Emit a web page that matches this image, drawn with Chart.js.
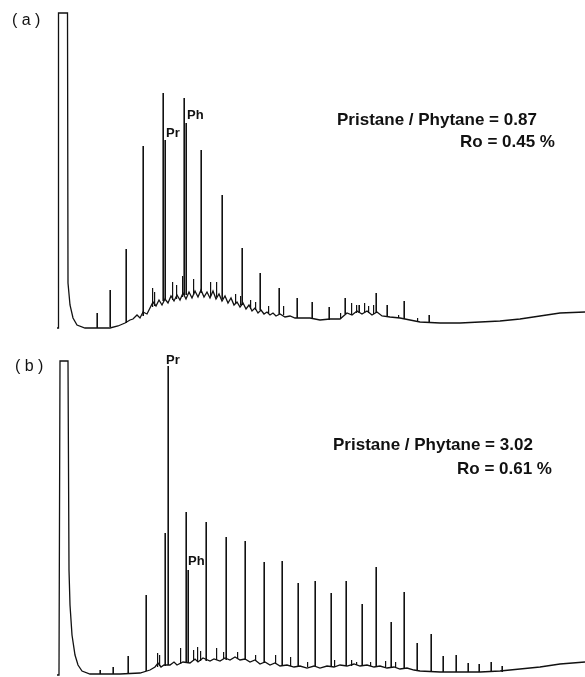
<!DOCTYPE html>
<html>
<head>
<meta charset="utf-8">
<script src="https://cdn.jsdelivr.net/npm/chart.js@4"></script>
<style>
  body { margin: 0; background: #fff; }
  #wrap { position: relative; width: 585px; height: 677px; font-family: "Liberation Sans", Arial, sans-serif; color: #111; }
  .panel { position: absolute; left: 0; width: 585px; }
  .txt { position: absolute; white-space: nowrap; line-height: 1; }
  .big { font-size: 17px; font-weight: bold; }
  .pk { font-size: 13px; font-weight: bold; }
  .tag { font-size: 16px; }
</style>
</head>
<body>
<div id="wrap">
  <div class="panel" style="top:0;height:338px"><canvas id="chartA" width="585" height="338"></canvas></div>
  <div class="panel" style="top:338px;height:339px"><canvas id="chartB" width="585" height="339"></canvas></div>

  <div class="txt tag" style="left:12px;top:12px">(&nbsp;a&nbsp;)</div>
  <div class="txt pk" style="left:166px;top:126px">Pr</div>
  <div class="txt pk" style="left:187px;top:108px">Ph</div>
  <div class="txt big" style="left:337px;top:111px">Pristane / Phytane = 0.87</div>
  <div class="txt big" style="left:460px;top:133px">Ro = 0.45 %</div>

  <div class="txt tag" style="left:15px;top:358px">(&nbsp;b&nbsp;)</div>
  <div class="txt pk" style="left:166px;top:353px">Pr</div>
  <div class="txt pk" style="left:188px;top:554px">Ph</div>
  <div class="txt big" style="left:333px;top:436px">Pristane / Phytane = 3.02</div>
  <div class="txt big" style="left:457px;top:460px">Ro = 0.61 %</div>
</div>

<script>
// ---- sample (a): retention time (min) / detector response ----
const baseTimeA = [0, 0.1, 0.15, 1.05, 1.1, 1.3, 1.6, 2.0, 2.8, 5.3, 6.1, 6.8, 7.3, 7.6, 8.0, 8.3, 8.6, 9.0, 9.3, 9.6, 9.9, 10.2, 10.5, 10.8, 11.1, 11.4, 11.7, 12.0, 12.3, 12.6, 12.9, 13.2, 13.5, 13.8, 14.1, 14.4, 14.7, 15.0, 15.3, 15.6, 15.9, 16.2, 16.5, 16.8, 17.1, 17.4, 17.7, 18.0, 18.3, 18.6, 18.9, 19.2, 19.5, 19.8, 20.1, 20.4, 20.7, 21.0, 21.3, 21.6, 21.9, 22.3, 22.8, 23.3, 23.8, 24.3, 25.3, 26.3, 27.3, 28.3, 29.0, 29.5, 30.0, 30.5, 31.0, 31.5, 32.0, 32.5, 33.3, 34.3, 35.3, 36.3, 38.3, 40.3, 42.3, 44.3, 46.3, 48.3, 50.3, 52.8];
const baseValA  = [0, 0, 31.5, 31.5, 4.5, 2.3, 1.0, 0.3, 0, 0, 0.2, 0.5, 0.8, 0.9, 1.3, 1.0, 1.6, 1.4, 2.0, 2.6, 2.2, 2.8, 2.3, 2.9, 2.5, 3.2, 2.7, 3.3, 2.8, 3.5, 2.9, 3.6, 3.0, 3.7, 3.1, 3.8, 3.1, 3.6, 3.0, 3.7, 2.9, 3.4, 2.7, 3.2, 2.5, 3.0, 2.3, 2.6, 2.1, 2.5, 1.9, 2.3, 1.7, 2.0, 1.5, 1.8, 1.4, 1.6, 1.3, 1.5, 1.2, 1.4, 1.1, 1.2, 1.0, 1.0, 1.0, 0.8, 0.9, 0.9, 1.5, 1.3, 1.7, 1.4, 1.7, 1.3, 1.6, 1.2, 1.1, 1.0, 0.8, 0.6, 0.5, 0.5, 0.6, 0.7, 0.9, 1.2, 1.5, 1.6];

const peakTimeA = [4.1, 5.4, 7.0, 8.7, 10.7, 10.9, 12.8, 13.0, 14.5, 16.6, 18.6, 20.4, 22.3, 24.1, 25.6, 27.3, 28.9, 30.3, 32.0, 33.1, 34.8, 37.3];
const peakTopA  = [1.5, 3.8, 7.9, 18.2, 23.5, 18.8, 23.0, 20.5, 17.8, 13.3, 8.0, 5.5, 4.0, 3.0, 2.6, 2.1, 3.0, 2.3, 3.5, 2.3, 2.7, 1.3];
const peakFootA = [0, 0.1, 0.5, 1.2, 2.7, 2.8, 3.3, 3.3, 3.5, 2.9, 2.3, 1.8, 1.4, 1.0, 1.0, 0.8, 1.4, 1.5, 1.5, 1.1, 0.9, 0.5];

const minorTimeA = [9.5, 9.7, 11.5, 11.9, 12.5, 13.6, 15.3, 15.9, 17.8, 18.3, 19.3, 19.8, 21.1, 22.6, 28.3, 29.4, 29.9, 30.7, 31.1, 31.6, 34.1, 36.0];
const minorTopA  = [4.0, 3.6, 4.6, 4.3, 5.2, 4.9, 4.6, 4.6, 3.4, 3.2, 2.8, 2.6, 2.2, 2.2, 1.5, 2.5, 2.3, 2.5, 2.2, 2.3, 1.3, 1.0];
const minorFootA = [2.1, 2.2, 2.8, 2.9, 3.1, 3.3, 3.2, 3.1, 2.4, 2.3, 1.9, 1.8, 1.5, 1.3, 0.9, 1.3, 1.5, 1.5, 1.5, 1.4, 1.0, 0.7];

// ---- sample (b) ----
const baseTimeB = [0, 0.2, 0.3, 1.1, 1.2, 1.3, 1.5, 1.8, 2.1, 2.5, 3.3, 6.3, 8.3, 9.3, 9.8, 10.1, 10.4, 10.7, 11.3, 11.7, 12.0, 12.6, 13.3, 13.8, 14.1, 14.6, 15.3, 15.7, 16.3, 16.8, 17.3, 17.8, 18.3, 18.8, 19.3, 19.8, 20.3, 20.8, 21.3, 21.8, 22.3, 23.0, 23.7, 24.3, 25.0, 25.7, 26.3, 27.0, 27.7, 28.3, 29.0, 29.7, 30.3, 31.0, 31.7, 32.3, 33.0, 33.7, 34.3, 35.0, 35.7, 36.3, 38.3, 40.3, 42.3, 44.3, 46.3, 48.3, 50.3, 52.8];
const baseValB  = [0, 0, 31.4, 31.4, 10.5, 7.0, 4.0, 2.0, 1.0, 0.4, 0.1, 0.1, 0.2, 0.5, 0.8, 1.2, 0.8, 1.0, 1.0, 1.3, 1.0, 1.3, 1.2, 1.6, 1.3, 1.7, 1.4, 1.6, 1.4, 1.7, 1.5, 1.8, 1.5, 1.6, 1.3, 1.5, 1.1, 1.3, 1.0, 1.2, 0.9, 1.0, 0.8, 0.9, 0.7, 0.9, 0.7, 0.9, 0.8, 1.0, 0.9, 1.1, 0.9, 1.0, 0.8, 0.9, 0.7, 0.8, 0.6, 0.7, 0.5, 0.4, 0.3, 0.3, 0.3, 0.4, 0.6, 0.8, 1.1, 1.3];

const peakTimeB = [4.4, 5.7, 7.2, 9.0, 10.9, 11.2, 13.0, 13.2, 15.0, 17.0, 18.9, 20.8, 22.6, 24.2, 25.9, 27.5, 29.0, 30.6, 32.0, 33.5, 34.8, 36.1, 37.5, 38.7, 40.0, 41.2, 42.3, 43.5, 44.6];
const peakTopB  = [0.5, 0.8, 1.9, 8.0, 14.2, 30.9, 16.3, 10.5, 15.3, 13.8, 13.4, 11.3, 11.4, 9.2, 9.4, 8.2, 9.4, 7.1, 10.8, 5.3, 8.3, 3.2, 4.1, 1.9, 2.0, 1.2, 1.1, 1.3, 0.9];
const peakFootB = [0.1, 0.1, 0.2, 0.4, 0.9, 1.0, 1.2, 1.2, 1.4, 1.5, 1.5, 1.2, 0.9, 0.8, 0.8, 0.8, 0.9, 0.9, 0.8, 0.7, 0.6, 0.4, 0.3, 0.3, 0.3, 0.3, 0.3, 0.3, 0.3];

const minorTimeB = [10.0, 10.2, 12.3, 13.6, 14.0, 14.3, 15.9, 16.6, 18.0, 19.8, 21.8, 23.3, 25.0, 27.7, 29.4, 29.9, 31.3, 32.8, 33.8];
const minorTopB  = [2.2, 2.0, 2.7, 2.5, 2.8, 2.4, 2.7, 2.3, 2.3, 2.0, 2.0, 1.8, 1.3, 1.5, 1.5, 1.3, 1.3, 1.4, 1.3];
const minorFootB = [0.8, 0.9, 1.1, 1.4, 1.4, 1.4, 1.5, 1.6, 1.6, 1.4, 1.1, 0.9, 0.8, 0.8, 0.9, 1.0, 0.9, 0.8, 0.8];

const INK = "#111";

function toPoints(xs, ys) {
  return xs.map((x, i) => ({ x: x, y: ys[i] }));
}

function toSpikes(xs, tops, feet) {
  return xs.map((x, i) => ({ x: x, y: [feet[i], tops[i]] }));
}

function makeChart(id, base, peaks, minor, yMax, pad) {
  const ctx = document.getElementById(id).getContext("2d");
  return new Chart(ctx, {
    type: "line",
    data: {
      datasets: [
        {
          data: base,
          borderColor: INK,
          borderWidth: 1.3,
          pointRadius: 0,
          tension: 0,
          fill: false,
          clip: 4
        },
        {
          type: "bar",
          data: peaks,
          backgroundColor: INK,
          borderWidth: 0,
          inflateAmount: 0,
          barThickness: 1.6
        },
        {
          type: "bar",
          data: minor,
          backgroundColor: INK,
          borderWidth: 0,
          inflateAmount: 0,
          barThickness: 1.2
        }
      ]
    },
    options: {
      responsive: false,
      animation: false,
      devicePixelRatio: 1,
      layout: { padding: pad },
      plugins: { legend: { display: false }, tooltip: { enabled: false } },
      scales: {
        x: { type: "linear", min: 0, max: 52.8, offset: false, display: false, grid: { display: false } },
        y: { type: "linear", min: 0, max: yMax, display: false, grid: { display: false } }
      }
    }
  });
}

makeChart("chartA",
  toPoints(baseTimeA, baseValA),
  toSpikes(peakTimeA, peakTopA, peakFootA),
  toSpikes(minorTimeA, minorTopA, minorFootA),
  31.5, { left: 57, right: 0, top: 13, bottom: 10 });

makeChart("chartB",
  toPoints(baseTimeB, baseValB),
  toSpikes(peakTimeB, peakTopB, peakFootB),
  toSpikes(minorTimeB, minorTopB, minorFootB),
  31.4, { left: 57, right: 0, top: 23, bottom: 2 });
</script>
</body>
</html>
